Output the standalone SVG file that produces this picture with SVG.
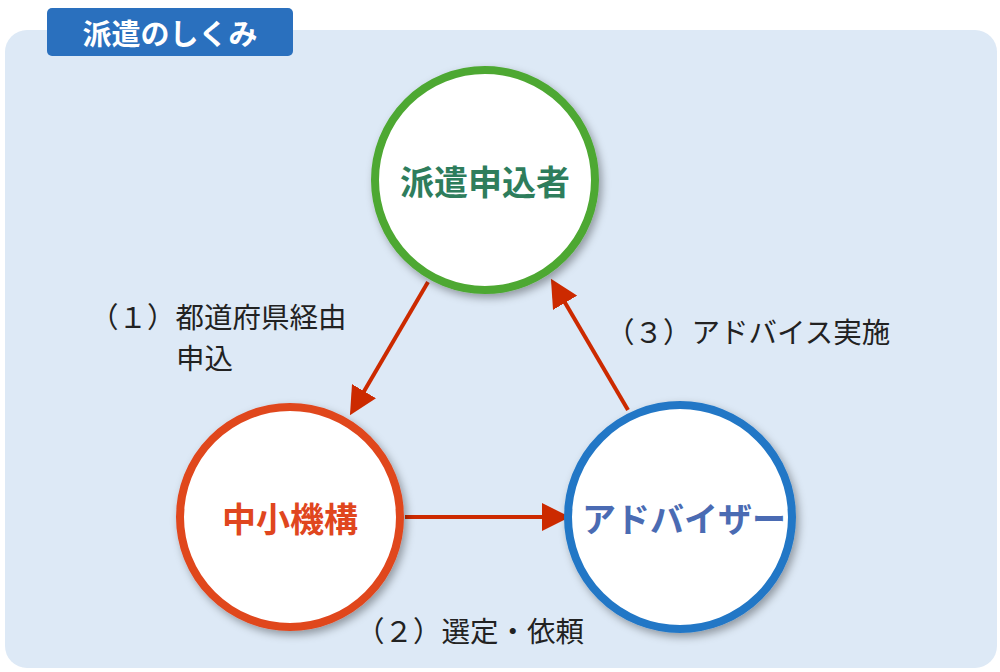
<svg xmlns="http://www.w3.org/2000/svg" width="1000" height="672" viewBox="0 0 1000 672">
<style>
text{font-family:"Noto Sans CJK JP","Noto Sans",sans-serif}
.lbl{font-size:28.5px;fill:#222}
.nd{font-size:34px;font-weight:bold;text-anchor:middle;dominant-baseline:central}
.c{fill:#fff;stroke-width:8;filter:url(#sh)}
.ar{stroke:#cc2a00;stroke-width:4;fill:none;marker-end:url(#ah)}
</style>
<defs>
<filter id="sh" x="-20%" y="-20%" width="140%" height="140%"><feDropShadow dx="3" dy="4" stdDeviation="4" flood-color="#000" flood-opacity="0.35"/></filter>
<marker id="ah" markerWidth="7" markerHeight="7" refX="4" refY="3.5" orient="auto" markerUnits="strokeWidth"><path d="M0,0 L7,3.5 L0,7 z" fill="#cc2a00"/></marker>
</defs>
<rect x="5" y="30" width="992" height="638" rx="22" fill="#dde9f6"/>
<g id="title"><rect x="47" y="8" width="246" height="48" rx="5" fill="#2a70be"/><text x="170" y="32" font-size="29" font-weight="bold" fill="#fff" text-anchor="middle" dominant-baseline="central">派遣のしくみ</text></g>
<g id="connectors">
<line class="ar" x1="428" y1="282" x2="356" y2="405"/>
<line class="ar" x1="405" y1="517" x2="558" y2="517"/>
<line class="ar" x1="628" y1="410" x2="557" y2="289"/>
</g>
<g id="n1"><circle class="c" cx="485" cy="180" r="110" stroke="#4ea832"/><text class="nd" x="485" y="180" fill="#2e7d5c">派遣申込者</text></g>
<g id="n2"><circle class="c" cx="290" cy="517" r="110" stroke="#e0461e"/><text class="nd" x="290" y="517" fill="#e0461e">中小機構</text></g>
<g id="n3"><circle class="c" cx="680" cy="517" r="112" stroke="#2277c6"/><text class="nd" x="684" y="517" fill="#4a6bb3" font-size="30">アドバイザー</text></g>
<text class="lbl" x="90" y="328">（１）都道府県経由</text>
<text class="lbl" x="176" y="369">申込</text>
<text class="lbl" x="606" y="343">（３）アドバイス実施</text>
<text class="lbl" x="356" y="642">（２）選定・依頼</text>
</svg>
